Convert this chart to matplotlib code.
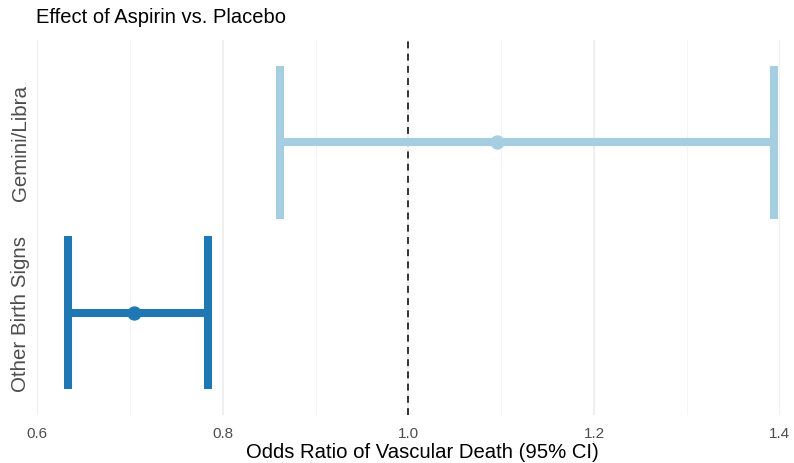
import matplotlib.pyplot as plt
import numpy as np

plt.rcParams['font.family'] = ['Liberation Sans', 'DejaVu Sans']

groups = ["Other Birth Signs", "Gemini/Libra"]
odds = [0.705, 1.096]
ci_low = [0.633, 0.862]
ci_high = [0.784, 1.394]
colors = ["#1f78b4", "#a6cee3"]

fig = plt.figure(figsize=(7.94, 4.64), dpi=100)
ax = fig.add_axes([0.0466, 0.1034, 0.9354, 0.8082])

ypos = np.arange(1, len(groups) + 1)
lw = 5.8
for y, o, lo, hi, c in zip(ypos, odds, ci_low, ci_high, colors):
    ax.hlines(y, lo, hi, color=c, lw=lw, capstyle='butt', zorder=3)
    ax.vlines([lo, hi], y - 0.45, y + 0.45, color=c, lw=lw, capstyle='butt', zorder=3)
    ax.plot(o, y, 'o', color=c, markersize=9.3, zorder=4)

ax.axvline(1.0, color='black', lw=1.1, ls=(0, (4.5, 3.5)), zorder=2)

ax.set_xlim(0.6, 1.4)
ax.set_ylim(0.4, 2.6)
ax.set_xticks([0.6, 0.8, 1.0, 1.2, 1.4])
ax.set_xticks([0.7, 0.9, 1.1, 1.3], minor=True)
ax.set_xticklabels(["0.6", "0.8", "1.0", "1.2", "1.4"])
ax.set_yticks(ypos)
ax.set_yticklabels(groups, rotation=90, va='center', fontsize=14.8, color='#4d4d4d')
ax.tick_params(axis='x', labelsize=11, colors='#4d4d4d', length=0, pad=8)
ax.tick_params(axis='x', which='minor', length=0)
ax.tick_params(axis='y', length=0, pad=5)

ax.grid(True, axis='x', which='major', color='#ebebeb', lw=1.1, zorder=0)
ax.grid(True, axis='x', which='minor', color='#f4f4f4', lw=0.6, zorder=0)
ax.set_axisbelow(True)
for s in ax.spines.values():
    s.set_visible(False)

fig.text(0.532, 0.024, "Odds Ratio of Vascular Death (95% CI)", fontsize=14.6,
         color='black', ha='center', va='center')
fig.text(0.045, 0.962, "Effect of Aspirin vs. Placebo", fontsize=14.5, va='center', ha='left')

fig.savefig("out.png", dpi=100)
